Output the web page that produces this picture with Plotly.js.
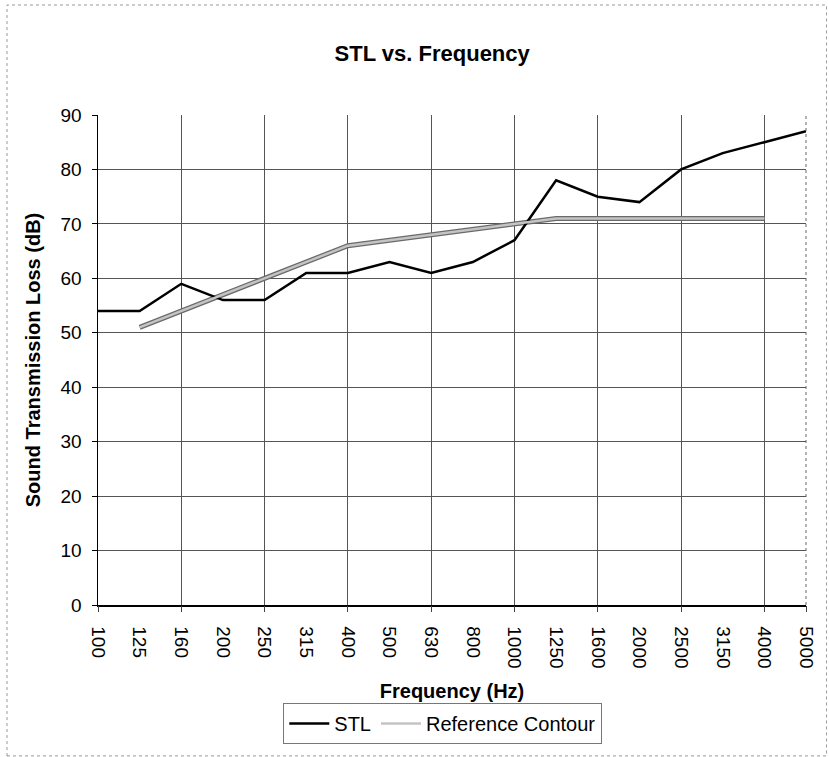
<!DOCTYPE html>
<html>
<head>
<meta charset="utf-8">
<script src="https://cdn.plot.ly/plotly-3.0.1.min.js"></script>
<style>html,body{margin:0;padding:0;background:#fff;}</style>
</head>
<body>
<div id="chart" style="width:829px;height:757px;"></div>
<script>
const frequencies = ["100","125","160","200","250","315","400","500","630","800","1000","1250","1600","2000","2500","3150","4000","5000"];
const stlValues = [54,54,59,56,56,61,61,63,61,63,67,78,75,74,80,83,85,87];
const contourFreqs = ["125","160","200","250","315","400","500","630","800","1000","1250","1600","2000","2500","3150","4000"];
const contourValues = [51,54,57,60,63,66,67,68,69,70,71,71,71,71,71,71];
const gridTickIdx = [0,2,4,6,8,10,12,14,16,17];

const font = "Liberation Sans, Arial, sans-serif";
const freqIdx = frequencies.map((f, i) => i);
const contourIdx = contourFreqs.map(f => frequencies.indexOf(f));

const traces = [
  {x: contourIdx, y: contourValues, xaxis: "x", type: "scatter", mode: "lines", name: "Reference Contour underlay",
   showlegend: false, hoverinfo: "skip", line: {color: "#6a6a6a", width: 5}},
  {x: freqIdx, y: stlValues, xaxis: "x2", type: "scatter", mode: "lines", name: "STL",
   line: {color: "#000000", width: 2.5}},
  {x: contourIdx, y: contourValues, xaxis: "x2", type: "scatter", mode: "lines", name: "Reference Contour",
   line: {color: "#c4c4c4", width: 2.5}}
];

const layout = {
  width: 829, height: 757,
  margin: {l: 98, r: 23, t: 115, b: 152},
  paper_bgcolor: "#ffffff", plot_bgcolor: "#ffffff",
  font: {family: font, color: "#000", size: 19},
  title: {text: "<b>STL vs. Frequency</b>", font: {family: font, size: 22, color: "#000"},
          xref: "paper", x: 0.472, xanchor: "center", yref: "container", y: 0.93, yanchor: "middle"},
  xaxis: {
    type: "linear", range: [0, 17], tickmode: "array", tickvals: freqIdx, ticktext: frequencies,
    showgrid: false, zeroline: false, ticks: "", tickangle: 90, ticklabelstandoff: 16,
    tickfont: {family: font, size: 19, color: "#000"}, automargin: false,
    showline: true, linecolor: "#000", linewidth: 1.5,
    title: {text: "<b>Frequency (Hz)</b>", font: {family: font, size: 20, color: "#000"}, standoff: 16}
  },
  xaxis2: {
    overlaying: "x", type: "linear", range: [0, 17], tickmode: "array", tickvals: gridTickIdx,
    showticklabels: false, showgrid: true, gridcolor: "#555", gridwidth: 1,
    ticks: "outside", ticklen: 6, tickcolor: "#444", zeroline: false, side: "bottom",
    anchor: "y", automargin: false
  },
  yaxis: {
    range: [0, 90], dtick: 10, tick0: 0, showgrid: true, gridcolor: "#555", gridwidth: 1,
    zeroline: false, ticks: "outside", ticklen: 5, tickcolor: "#000", ticklabelstandoff: 6,
    showline: true, linecolor: "#000", linewidth: 1.5, automargin: false,
    tickfont: {family: font, size: 19, color: "#000"},
    title: {text: "<b>Sound Transmission Loss (dB)</b>", font: {family: font, size: 20, color: "#000"}, standoff: 14}
  },
  legend: {
    orientation: "h", x: 0.487, xanchor: "center", y: -0.2, yanchor: "top",
    bordercolor: "#777", borderwidth: 1, bgcolor: "#fff",
    font: {family: font, size: 20, color: "#000"}, itemwidth: 40, traceorder: "normal"
  },
  shapes: [
    {type: "rect", xref: "paper", yref: "paper", x0: -0.1285, x1: 1.029, y0: -0.308, y1: 1.2245,
     line: {color: "#999", width: 1, dash: "dot"}, fillcolor: "rgba(0,0,0,0)", layer: "below"},
    {type: "line", xref: "paper", yref: "paper", x0: 1, x1: 1, y0: 0, y1: 1,
     line: {color: "#666", width: 1, dash: "dot"}}
  ],
  showlegend: true
};

Plotly.newPlot("chart", traces, layout, {displayModeBar: false, staticPlot: true});
</script>
</body>
</html>
